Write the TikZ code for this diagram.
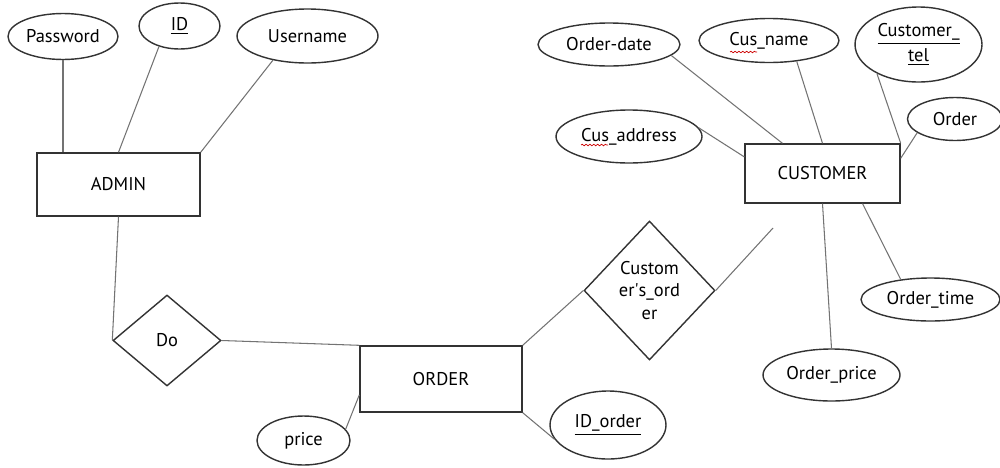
\documentclass[tikz,border=0pt]{standalone}
\usepackage{fontspec}
\setmainfont{PT Sans}
\usetikzlibrary{shapes.geometric,decorations.pathmorphing}
\begin{document}
\begin{tikzpicture}[x=0.02cm,y=-0.02cm,
  font=\fontsize{10.5}{13}\selectfont,
  shp/.style={draw=black!80, line width=0.8pt},
  attr/.style={shp, ellipse, inner sep=0pt, align=center},
  ent/.style={shp, rectangle, inner sep=0pt},
  rel/.style={shp, diamond, inner sep=0pt, align=center},
  link/.style={draw=black!55, line width=0.6pt},
  spell/.style={draw=red!80!black, line width=0.4pt, decorate,
    decoration={snake, amplitude=0.45pt, segment length=2.2pt}}
]
\useasboundingbox (0,0) rectangle (1000,467);

% ADMIN side
\node[ent, minimum width=3.26cm, minimum height=1.26cm] (admin) at (118.5,184.5) {ADMIN};
\node[attr, minimum width=2.2cm, minimum height=0.92cm] (pw) at (63,36.5) {Password};
\node[attr, minimum width=1.62cm, minimum height=0.92cm] (id) at (179.5,26) {\underline{ID}};
\node[attr, minimum width=2.82cm, minimum height=1.08cm] (un) at (307.5,36) {Username};

\node[rel, minimum width=2.16cm, minimum height=1.82cm] (do) at (167,340.5) {Do};

% ORDER
\node[ent, minimum width=3.24cm, minimum height=1.32cm] (order) at (441,379) {ORDER};
\node[attr, minimum width=1.86cm, minimum height=0.98cm] (price) at (303.5,440.5) {price};
\node[attr, minimum width=2.32cm, minimum height=1.36cm] (idorder) at (608,425) {\underline{ID\_order}};

\node[rel, minimum width=2.62cm, minimum height=2.78cm] (co) at (649.5,290.5) {Custom\\er\textquotesingle s\_ord\\er};
\coordinate (free) at (773,228);

% CUSTOMER
\node[ent, minimum width=3.1cm, minimum height=1.18cm] (cust) at (822.5,173.5) {CUSTOMER};
\node[attr, minimum width=2.84cm, minimum height=0.86cm] (od) at (609,44.5) {Order-date};
\node[attr, minimum width=2.8cm, minimum height=0.88cm] (cn) at (769,40.5) {Cus\_name};
\node[attr, minimum width=2.54cm, minimum height=1.5cm] (tel) at (918.5,44.5) {\underline{Customer\_}\\[1pt]\underline{tel}};
\node[attr, minimum width=1.9cm, minimum height=0.86cm] (ord) at (955,119) {Order};
\node[attr, minimum width=2.92cm, minimum height=1.06cm] (addr) at (629,136.5) {Cus\_address};
\node[attr, minimum width=2.78cm, minimum height=0.86cm] (time) at (930.5,299.5) {Order\_time};
\node[attr, minimum width=2.74cm, minimum height=1.04cm] (oprice) at (831.5,375) {Order\_price};

% spell-check marks
\draw[spell] (730,52) -- (757,52);
\draw[spell] (581,145) -- (608,145);

% connectors
\draw[link] (pw.south) -- (pw.south |- admin.north);
\draw[link] (id.225) -- (admin.north);
\draw[link] (un.215) -- (admin.north east);
\draw[link] (admin.south) -- (do.west);
\draw[link] (do.east) -- (order.north west);
\draw[link] (order.191) -- (price.15);
\draw[link] (order.south east) -- (idorder.195);
\draw[link] (order.north east) -- (co.west);
\draw[link] (co.east) -- (free);

\draw[link] (od.-10) -- (cust.143);
\draw[link] (cn.-37) -- (cust.north);
\draw[link] (tel.215) -- (cust.north east);
\draw[link] (ord.200) -- (cust.11);
\draw[link] (addr.7) -- (cust.168);
\draw[link] (cust.-37) -- (time.146);
\draw[link] (cust.south) -- (oprice.north);
\end{tikzpicture}
\end{document}
